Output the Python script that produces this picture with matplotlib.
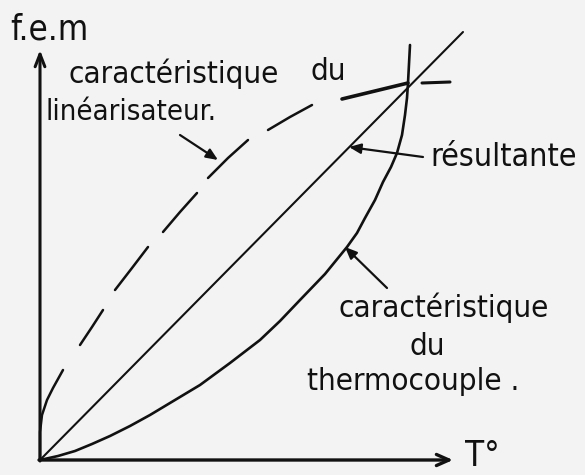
import matplotlib.pyplot as plt

plt.rcParams['font.family'] = ['DejaVu Sans']
plt.rcParams['font.stretch'] = 'condensed'

# temperature / e.m.f. in drawing units, origin at the axes corner
thermo_T = [0, 18, 35, 52, 70, 90, 110, 135, 160, 190, 220, 240, 260, 285,
            307, 317, 325, 335, 343, 351, 357, 362, 365, 367, 368, 369, 370]
thermo_fem = [0, 4, 9, 16, 24, 34, 45, 60, 75, 97, 120, 139, 160, 186,
              213, 227, 242, 260, 278, 293, 307, 325, 345, 362, 377, 396, 415]

lin_T = [0, 0, 2, 7, 13, 23, 40, 52, 63, 75, 92, 108, 123, 140, 157,
         168, 188, 208, 228, 250, 272, 302, 335, 368, 382, 410]
lin_fem = [0, 28, 45, 60, 72, 90, 115, 133, 150, 170, 192, 213, 228, 248, 267,
           282, 302, 320, 330, 343, 355, 361, 369, 377, 377, 378]

result_T = [0, 423]
result_fem = [0, 428]

# hand-drawn dashes of the linearizer curve (index ranges into lin_*)
lin_pieces = [(0, 6, 1.8), (6, 9, 1.8), (9, 12, 1.8), (12, 15, 1.8),
              (15, 18, 1.8), (18, 21, 1.8), (21, 24, 2.6), (24, 26, 2.2)]

ink = '#111111'

fig = plt.figure(figsize=(5.85, 4.75), dpi=100, facecolor='#f3f3f3')
ax = fig.add_axes([0, 0, 1, 1])
ax.set_facecolor('#f3f3f3')
ax.set_xlim(-40, 545)
ax.set_ylim(-15, 460)
ax.axis('off')

# axes with open arrow heads
ax.annotate('', xy=(0, 410), xytext=(0, -1),
            arrowprops=dict(arrowstyle='->, head_length=0.9, head_width=0.35',
                            color=ink, lw=2.2, shrinkA=0, shrinkB=0))
ax.annotate('', xy=(413, 0), xytext=(-1, 0),
            arrowprops=dict(arrowstyle='->, head_length=0.9, head_width=0.4',
                            color=ink, lw=2.4, shrinkA=0, shrinkB=0))

ax.plot(result_T, result_fem, color=ink, lw=1.5, solid_capstyle='round')
ax.plot(thermo_T, thermo_fem, color=ink, lw=1.9, solid_capstyle='round',
        solid_joinstyle='round')
for a, b, w in lin_pieces:
    ax.plot(lin_T[a:b], lin_fem[a:b], color=ink, lw=w, solid_capstyle='round')

arrow = dict(arrowstyle='-|>, head_length=0.7, head_width=0.3',
             color=ink, lw=1.6, shrinkA=0, shrinkB=0)
ax.annotate('', xy=(178, 300), xytext=(140, 325), arrowprops=arrow)
ax.annotate('', xy=(309, 313), xytext=(383, 303), arrowprops=arrow)
ax.annotate('', xy=(305, 213), xytext=(347, 172), arrowprops=arrow)

txt = dict(color=ink, ha='left', va='baseline')
ax.text(-30, 420, 'f.e.m', fontsize=25, **txt)
ax.text(28, 377, 'caractéristique', fontsize=22.5, **txt)
ax.text(270, 380, 'du', fontsize=22.5, **txt)
ax.text(5, 340, 'linéarisateur.', fontsize=21, **txt)
ax.text(390, 294, 'résultante', fontsize=23, **txt)
ax.text(298, 143, 'caractéristique', fontsize=22.5, **txt)
ax.text(387, 105, 'du', fontsize=22.5, ha='center', va='baseline', color=ink)
ax.text(267, 70, 'thermocouple .', fontsize=22.5, **txt)
ax.text(425, -6, 'T°', fontsize=25, **txt)

fig.savefig('out.png', dpi=100, facecolor=fig.get_facecolor())
